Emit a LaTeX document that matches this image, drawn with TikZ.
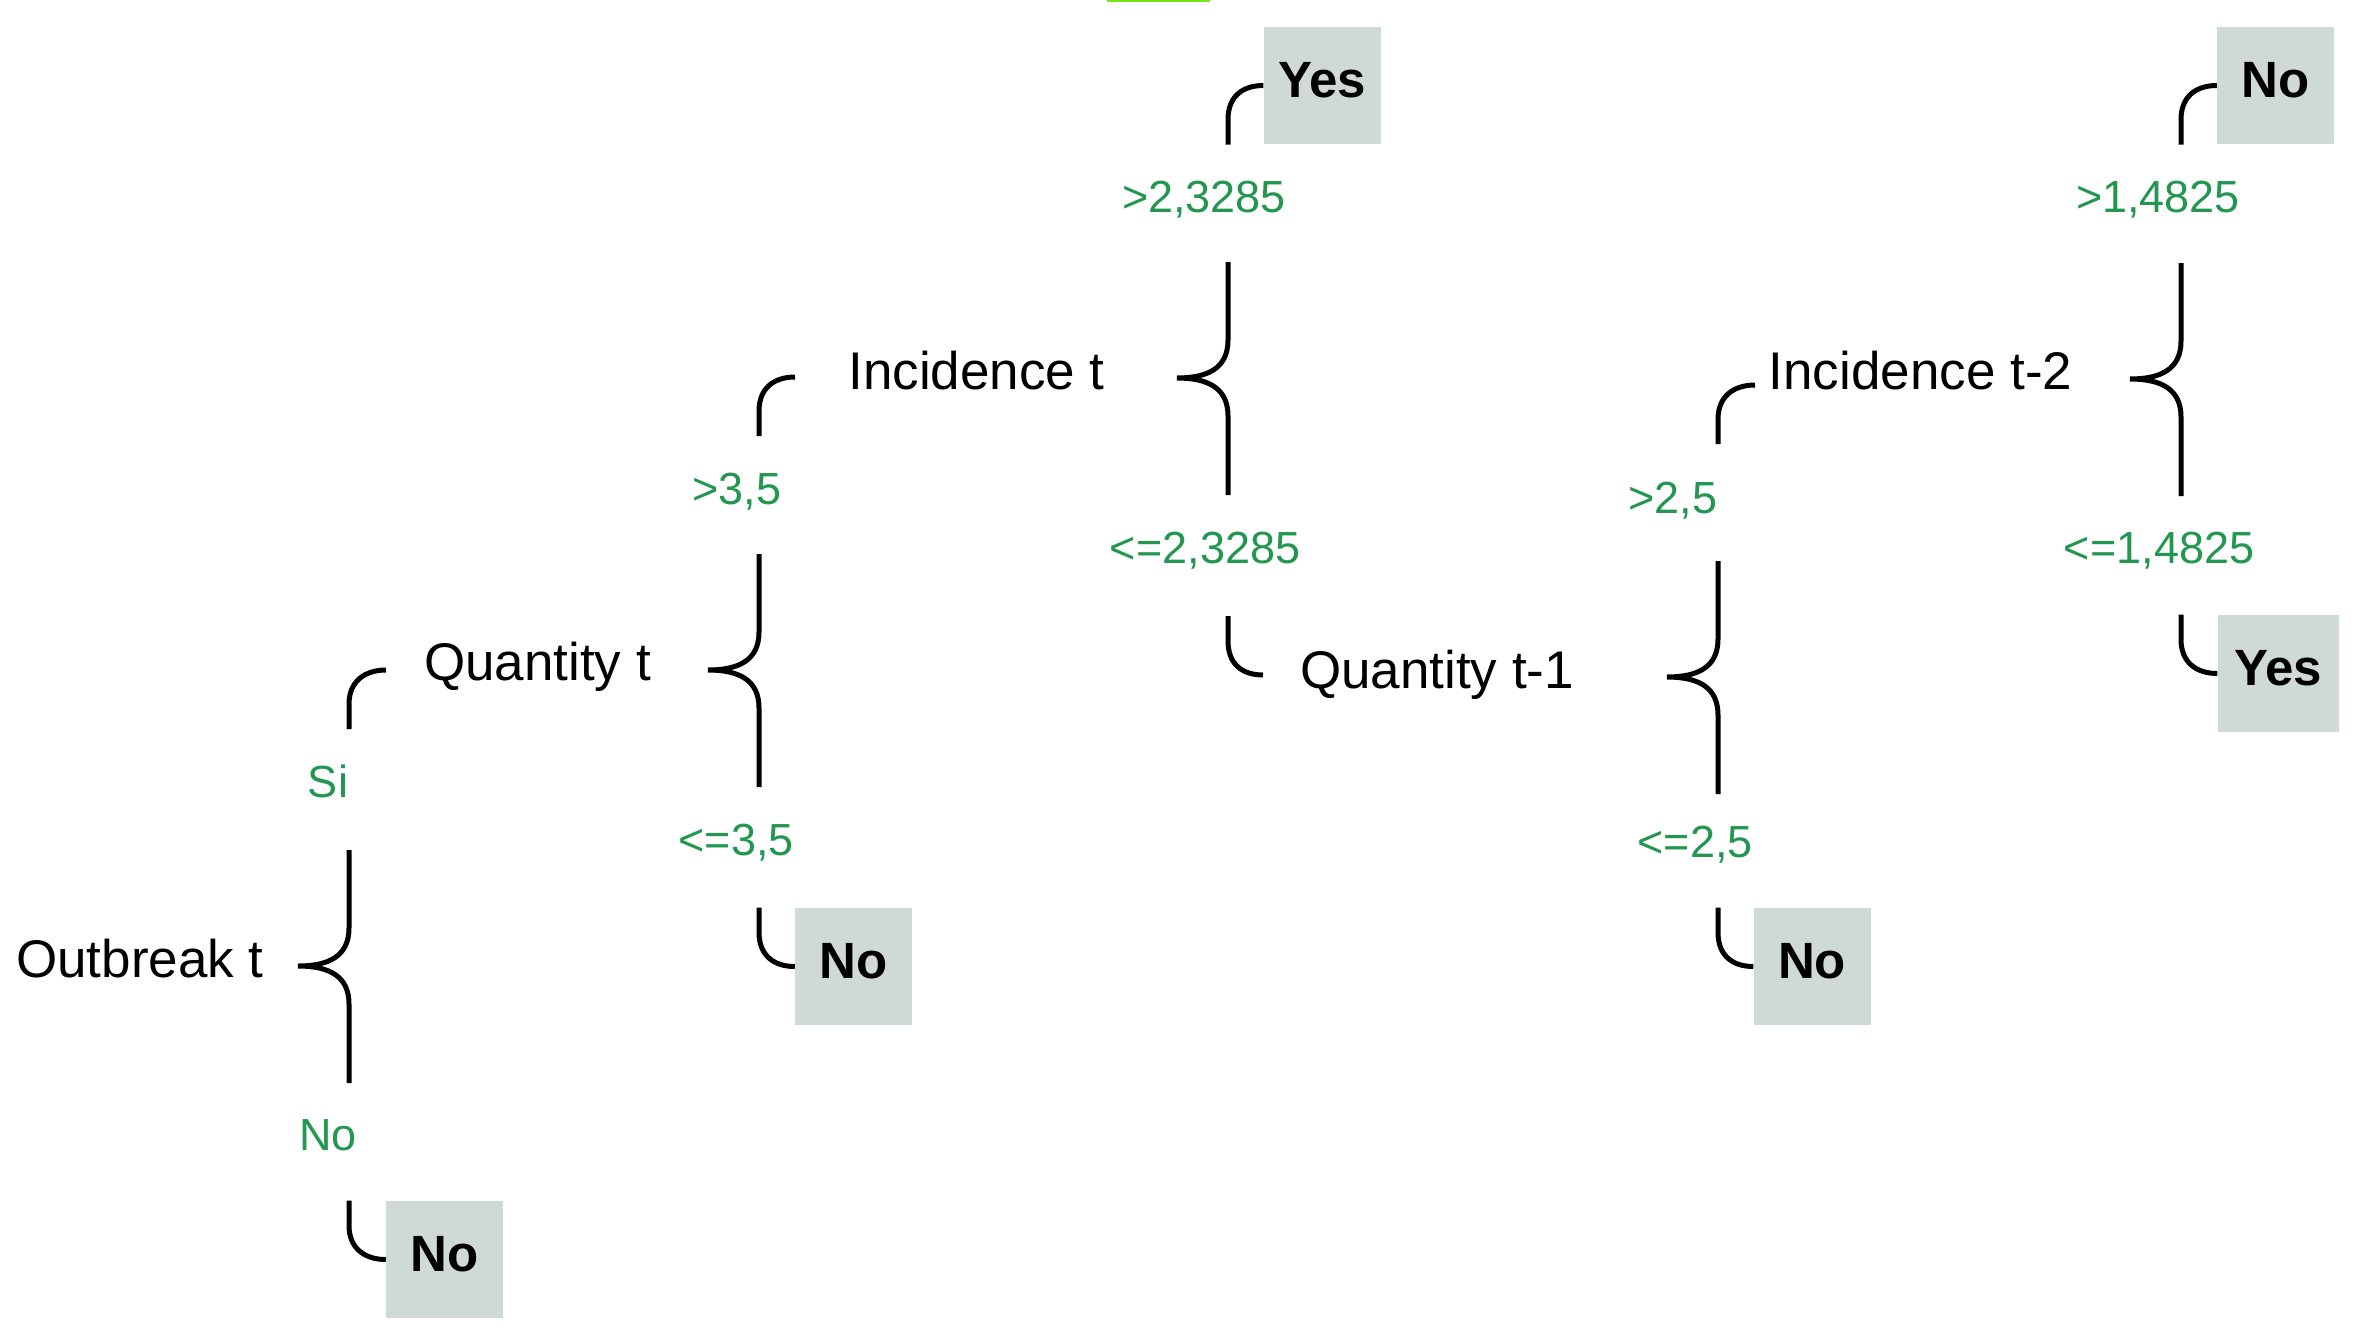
\documentclass[tikz,border=0pt]{standalone}
\usepackage{fontspec}
\setmainfont{Liberation Sans}
\usetikzlibrary{calc}
\definecolor{leafgray}{RGB}{207,217,214}
\definecolor{condgreen}{RGB}{35,150,80}
\definecolor{limebar}{RGB}{120,230,20}
\begin{document}
\begin{tikzpicture}[x=1pt,y=-1pt,
  conn/.style={line width=5pt, draw=black},
  split/.style={font=\fontsize{53}{64}\selectfont, inner sep=0pt, anchor=base},
  cond/.style={font=\fontsize{45}{54}\selectfont, text=condgreen, inner sep=0pt, anchor=base},
  leaf/.style={fill=leafgray, minimum width=117pt, minimum height=117pt, inner sep=0pt,
               text height=37pt, text depth=14pt, font=\bfseries\fontsize{51}{60}\selectfont},
  splitbrace/.pic={\draw[conn] (0,-116) -- (0,-38) .. controls (0,-10) and (-20,0) .. (-51,0)
                    .. controls (-20,0) and (0,10) .. (0,38) -- (0,117);}
]
\useasboundingbox (0,0) rectangle (2358,1339);
\fill[limebar] (1107,0) rectangle (1210,2);

% leaves
\node[leaf] (yesA) at (1322,85.5) {Yes};
\node[leaf] (noTR) at (2275.5,85.5) {No};
\node[leaf, minimum width=121pt] (yesR) at (2278,673.5) {Yes};
\node[leaf] (noQt) at (853.5,966.5) {No};
\node[leaf] (noQt1) at (1812,966.5) {No};
\node[leaf] (noOut) at (444.5,1259.5) {No};

% split nodes
\node[split] (outb) at (140,977) {Outbreak t};
\node[split] (qt) at (537.5,680) {Quantity t};
\node[split] (inct) at (976.5,389) {Incidence t};
\node[split] (qt1) at (1437,688) {Quantity t-1};
\node[split] (inct2) at (1920.5,389) {Incidence t-2};

% spines of the braces
\coordinate (spOut) at (349,966);
\coordinate (spQt) at (759,670);
\coordinate (spInc) at (1228,378);
\coordinate (spQt1) at (1718,677);
\coordinate (spInc2) at (2181,379);

% hook ends at text children
\coordinate (inQt) at (386,670);
\coordinate (inInc) at (795,377);
\coordinate (inQt1) at (1263,675);
\coordinate (inInc2) at (1755,385);

% braces
\pic at (spOut) {splitbrace};
\pic at (spQt) {splitbrace};
\pic at (spInc) {splitbrace};
\pic at (spQt1) {splitbrace};
\pic at (spInc2) {splitbrace};

% upper hooks
\draw[conn] ($(spOut |- inQt)+(0,59)$) -- ++(0,-25) .. controls +(0,-22) and +(-22,0) .. (inQt);
\draw[conn] ($(spQt |- inInc)+(0,59)$) -- ++(0,-25) .. controls +(0,-22) and +(-22,0) .. (inInc);
\draw[conn] ($(spInc |- yesA.west)+(0,59)$) -- ++(0,-25) .. controls +(0,-22) and +(-22,0) .. (yesA.west);
\draw[conn] ($(spQt1 |- inInc2)+(0,59)$) -- ++(0,-25) .. controls +(0,-22) and +(-22,0) .. (inInc2);
\draw[conn] ($(spInc2 |- noTR.west)+(0,59)$) -- ++(0,-25) .. controls +(0,-22) and +(-22,0) .. (noTR.west);

% lower hooks
\draw[conn] ($(spOut |- noOut.west)+(0,-59)$) -- ++(0,25) .. controls +(0,22) and +(-22,0) .. (noOut.west);
\draw[conn] ($(spQt |- noQt.west)+(0,-59)$) -- ++(0,25) .. controls +(0,22) and +(-22,0) .. (noQt.west);
\draw[conn] ($(spInc |- inQt1)+(0,-59)$) -- ++(0,25) .. controls +(0,22) and +(-22,0) .. (inQt1);
\draw[conn] ($(spQt1 |- noQt1.west)+(0,-59)$) -- ++(0,25) .. controls +(0,22) and +(-22,0) .. (noQt1.west);
\draw[conn] ($(spInc2 |- yesR.west)+(0,-59)$) -- ++(0,25) .. controls +(0,22) and +(-22,0) .. (yesR.west);

% conditions
\node[cond] (cSi) at (328,797) {Si};
\node[cond] (cNoOut) at (328,1150) {No};
\node[cond] (cQtUp) at (737,504) {>3,5};
\node[cond] (cQtDn) at (736,855) {<=3,5};
\node[cond] (cIncUp) at (1204,212) {>2,3285};
\node[cond] (cIncDn) at (1205,563) {<=2,3285};
\node[cond] (cQtOneUp) at (1673,513) {>2,5};
\node[cond] (cQtOneDn) at (1695,857) {<=2,5};
\node[cond] (cIncTwoUp) at (2158,212) {>1,4825};
\node[cond] (cIncTwoDn) at (2159,563) {<=1,4825};
\end{tikzpicture}
\end{document}
